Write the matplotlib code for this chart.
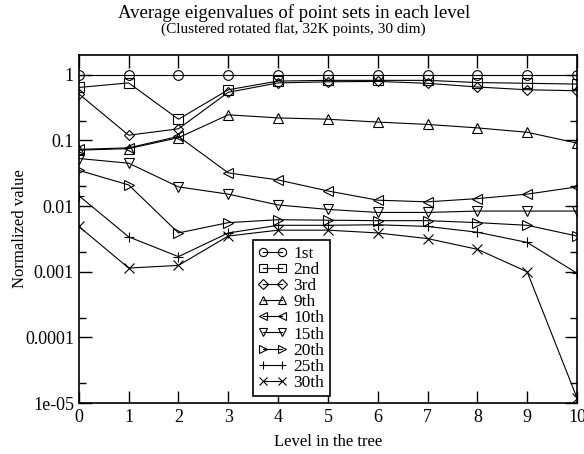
import numpy as np
import matplotlib
matplotlib.use("Agg")
import matplotlib.pyplot as plt
from matplotlib.ticker import FixedLocator, NullFormatter

plt.rcParams['font.family'] = ['Liberation Serif', 'DejaVu Serif']

# levels in the tree
levels = np.arange(11)

# normalized eigenvalues per rank
ev_1st = [1.0, 1.0, 1.0, 1.0, 1.0, 1.0, 1.0, 1.0, 1.0, 1.0, 1.0]
ev_2nd = [0.64, 0.75, 0.21, 0.59, 0.80, 0.82, 0.82, 0.82, 0.76, 0.74, 0.72]
ev_3rd = [0.51, 0.12, 0.15, 0.54, 0.75, 0.78, 0.79, 0.74, 0.65, 0.59, 0.57]
ev_9th = [0.071, 0.075, 0.11, 0.245, 0.22, 0.21, 0.19, 0.175, 0.155, 0.133, 0.091]
ev_10th = [0.073, 0.077, 0.115, 0.032, 0.025, 0.017, 0.0123, 0.0116, 0.013, 0.0152, 0.0196]
ev_15th = [0.053, 0.045, 0.0196, 0.0152, 0.0104, 0.0089, 0.008, 0.008, 0.0084, 0.0084, 0.0084]
ev_20th = [0.035, 0.021, 0.0039, 0.0056, 0.0062, 0.0061, 0.006, 0.006, 0.0056, 0.0051, 0.0035]
ev_25th = [0.0144, 0.0034, 0.0017, 0.0039, 0.0051, 0.0051, 0.0052, 0.0049, 0.004, 0.0028, 0.00095]
ev_30th = [0.0049, 0.00114, 0.00125, 0.0035, 0.0043, 0.0043, 0.0039, 0.0032, 0.0022, 0.001, 1.2e-5]

series = [ev_1st, ev_2nd, ev_3rd, ev_9th, ev_10th, ev_15th, ev_20th, ev_25th, ev_30th]
labels = ['1st', '2nd', '3rd', '9th', '10th', '15th', '20th', '25th', '30th']
markers = ['o', 's', 'D', '^', '<', 'v', '>', '+', 'x']

ytick_vals = [1e-5, 1e-4, 1e-3, 1e-2, 1e-1, 1]
ytick_labels = ['1e-05', '0.0001', '0.001', '0.01', '0.1', '1']

fig = plt.figure(figsize=(5.84, 4.54), dpi=100)
ax = fig.add_axes([0.135, 0.112, 0.853, 0.767])

for vals, lab, m in zip(series, labels, markers):
    ms = 5.5 if m == 'D' else 7
    ax.plot(levels, vals, color='black', linewidth=0.8, marker=m, markersize=ms,
            markerfacecolor='none', markeredgecolor='black', markeredgewidth=0.8,
            label=lab)

ax.set_yscale('log')
ax.set_xlim(0, 10)
ax.set_ylim(1e-5, 2)
ax.set_xticks(levels)
ax.set_yticks(ytick_vals)
ax.set_yticklabels(ytick_labels)
ax.yaxis.set_minor_locator(FixedLocator([2e-5, 2e-4, 2e-3, 2e-2, 2e-1]))
ax.yaxis.set_minor_formatter(NullFormatter())
ax.tick_params(which='both', direction='in', top=True, right=True, labelsize=13)
ax.tick_params(which='major', length=9, width=1)
ax.tick_params(which='minor', length=5, width=1)
ax.tick_params(axis='x', pad=4)
for s in ax.spines.values():
    s.set_linewidth(1.2)

ax.set_xlabel('Level in the tree', fontsize=12, labelpad=6)
ax.set_ylabel('Normalized value', fontsize=12, labelpad=-2)

fig.text(0.503, 0.972, 'Average eigenvalues of point sets in each level',
         ha='center', va='center', fontsize=13.5)
fig.text(0.503, 0.936, '(Clustered rotated flat, 32K points, 30 dim)',
         ha='center', va='center', fontsize=11)

leg = ax.legend(loc='lower left', bbox_to_anchor=(0.349, 0.02), numpoints=2,
                fancybox=False, framealpha=1, edgecolor='black', fontsize=12.5,
                handlelength=1.7, handletextpad=0.35, labelspacing=0.0,
                borderpad=0.3, borderaxespad=0, markerscale=0.85)
leg.get_frame().set_linewidth(1.2)

fig.savefig('out.png', dpi=100)
